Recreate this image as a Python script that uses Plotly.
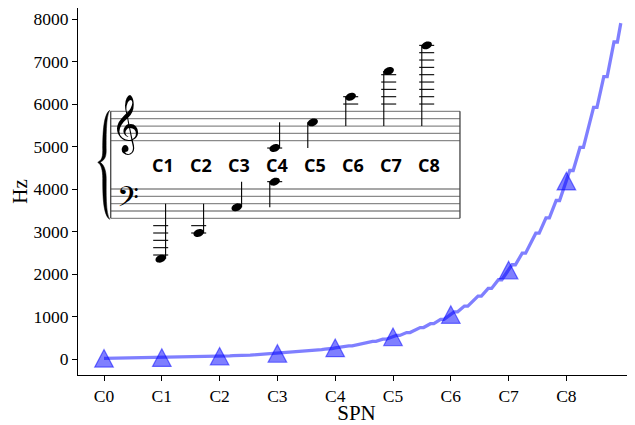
import math
import plotly.graph_objects as go

# ---------------- data ----------------
spelled_names = ["C", "C#", "Db", "D", "D#", "Eb", "E", "F", "F#", "Gb",
                 "G", "G#", "Ab", "A", "A#", "Bb", "B"]
pitch_class = {"C": 0, "C#": 1, "Db": 1, "D": 2, "D#": 3, "Eb": 3, "E": 4,
               "F": 5, "F#": 6, "Gb": 6, "G": 7, "G#": 8, "Ab": 8, "A": 9,
               "A#": 10, "Bb": 10, "B": 11}

freq_oct0 = [16.35, 17.32, 18.35, 19.45, 20.60, 21.83, 23.12, 24.50, 25.96, 27.50, 29.14, 30.87]
freq_oct1 = [32.70, 34.65, 36.71, 38.89, 41.20, 43.65, 46.25, 49.00, 51.91, 55.00, 58.27, 61.74]
freq_oct2 = [65.41, 69.30, 73.42, 77.78, 82.41, 87.31, 92.50, 98.00, 103.83, 110.00, 116.54, 123.47]
freq_oct3 = [130.81, 138.59, 146.83, 155.56, 164.81, 174.61, 185.00, 196.00, 207.65, 220.00, 233.08, 246.94]
freq_oct4 = [261.63, 277.18, 293.66, 311.13, 329.63, 349.23, 369.99, 392.00, 415.30, 440.00, 466.16, 493.88]
freq_oct5 = [523.25, 554.37, 587.33, 622.25, 659.25, 698.46, 739.99, 783.99, 830.61, 880.00, 932.33, 987.77]
freq_oct6 = [1046.50, 1108.73, 1174.66, 1244.51, 1318.51, 1396.91, 1479.98, 1567.98, 1661.22, 1760.00, 1864.66, 1975.53]
freq_oct7 = [2093.00, 2217.46, 2349.32, 2489.02, 2637.02, 2793.83, 2959.96, 3135.96, 3322.44, 3520.00, 3729.31, 3951.07]
freq_oct8 = [4186.01, 4434.92, 4698.63, 4978.03, 5274.04, 5587.65, 5919.91, 6271.93, 6644.88, 7040.00, 7458.62, 7902.13]
freqs_by_octave = [freq_oct0, freq_oct1, freq_oct2, freq_oct3, freq_oct4,
                   freq_oct5, freq_oct6, freq_oct7, freq_oct8]
tick_labels = ["C0", "C1", "C2", "C3", "C4", "C5", "C6", "C7", "C8"]

# inset (staff illustration)
inset_labels = ["C1", "C2", "C3", "C4", "C5", "C6", "C7", "C8"]
inset_note_slot = [1, 2, 3, 4, 4, 5, 6, 7, 8]
inset_note_staff = ["bass", "bass", "bass", "bass", "treble", "treble", "treble", "treble", "treble"]
inset_note_step = [7, 14, 21, 28, 28, 35, 42, 49, 56]   # diatonic step, C0 = 0

# ---------------- main series ----------------
n_per_oct = len(spelled_names)
xs, ys = [], []
for octv, freqs in enumerate(freqs_by_octave):
    for i, name in enumerate(spelled_names):
        xs.append(octv + i / n_per_oct)
        ys.append(freqs[pitch_class[name]])
cx = list(range(len(freqs_by_octave)))
cy = [f[pitch_class["C"]] for f in freqs_by_octave]

BLUE = "rgba(0,0,255,0.5)"
fig = go.Figure()
fig.add_trace(go.Scatter(x=xs, y=ys, mode="lines",
                         line=dict(color=BLUE, width=3.3), showlegend=False,
                         hoverinfo="skip"))

shapes = []
# triangle markers at every C, anchored at the data point (pixel-sized)
TRI_HALF_W, TRI_HALF_H = 9.3, 8.8
tri_path = "M %.1f,%.1f L %.1f,%.1f L 0,%.1f Z" % (-TRI_HALF_W, -TRI_HALF_H,
                                                  TRI_HALF_W, -TRI_HALF_H, TRI_HALF_H)
for x0, y0 in zip(cx, cy):
    shapes.append(dict(type="path", xref="x", yref="y", xsizemode="pixel", ysizemode="pixel",
                       xanchor=x0, yanchor=y0, path=tri_path,
                       fillcolor=BLUE, line=dict(color=BLUE, width=1.2)))

# ---------------- inset geometry ----------------
SLOT_PX = 38.0
STEP_PX = 3.667
BASS_OFFSET = -13.17


def staff_y(step, staff):
    if staff == "treble":
        return step - 30
    return BASS_OFFSET + (step - 26)


def px_x(dpx):
    return dpx / SLOT_PX


def px_y(dpx):
    return dpx / STEP_PX


BAR_L, BAR_R = -0.315, 8.876
STAFF_COL = "#8a8a8a"
for staff, lines in (("treble", [30, 32, 34, 36, 38]), ("bass", [18, 20, 22, 24, 26])):
    for s in lines:
        y = staff_y(s, staff)
        shapes.append(dict(type="line", xref="x2", yref="y2", x0=BAR_L, x1=BAR_R,
                           y0=y, y1=y, line=dict(color=STAFF_COL, width=1.3)))
for bx in (BAR_L, BAR_R):
    shapes.append(dict(type="line", xref="x2", yref="y2", x0=bx, x1=bx,
                       y0=staff_y(18, "bass"), y1=staff_y(38, "treble"),
                       line=dict(color="#444", width=1.3)))


def bp(xpx, ypx):
    return (BAR_L + px_x(xpx), staff_y(38, "treble") - px_y(ypx))


mid = 51.0
bot = 107.0
segs = [
    (bp(-1, -1),),
    (bp(-8, 3), bp(-8, 28), bp(-8, 39)),
    (bp(-8, 47), bp(-9.5, mid - 2), bp(-13, mid)),
    (bp(-9.5, mid + 2), bp(-8, mid + 8), bp(-8, mid + 16)),
    (bp(-8, mid + 30), bp(-8, bot - 3), bp(-1, bot + 1)),
    (bp(-5, bot - 5), bp(-4.5, mid + 30), bp(-4.5, mid + 16)),
    (bp(-4.5, mid + 8), bp(-7, mid + 2), bp(-10.5, mid)),
    (bp(-7, mid - 2), bp(-4.5, 47), bp(-4.5, 39)),
    (bp(-4.5, 28), bp(-5, 5), bp(-1, -1)),
]
path = "M %.4f,%.4f" % segs[0][0]
for seg in segs[1:]:
    path += " C " + " ".join("%.4f,%.4f" % p for p in seg)
path += " Z"
shapes.append(dict(type="path", xref="x2", yref="y2", path=path,
                   fillcolor="black", line=dict(width=0.5, color="black")))


def head_path(xc, yc, rx=5.4, ry=3.7, ang=22):
    a = math.radians(ang)
    pts = []
    for k in range(28):
        t = 2 * math.pi * k / 28
        x = rx * math.cos(t)
        y = ry * math.sin(t)
        xr = x * math.cos(a) - y * math.sin(a)
        yr = x * math.sin(a) + y * math.cos(a)
        pts.append((xc + px_x(xr), yc + px_y(yr)))
    return "M " + " L ".join("%.4f,%.4f" % p for p in pts) + " Z"


for slot, staff, step in zip(inset_note_slot, inset_note_staff, inset_note_step):
    yc = staff_y(step, staff)
    mid_line = 34 if staff == "treble" else 22
    if staff == "treble":
        led = [s for s in range(40, step + 1, 2)] + [s for s in range(28, step - 1, -2)]
    else:
        led = [s for s in range(16, step - 1, -2)] + [s for s in range(28, step + 1, 2)]
    for s in led:
        ly = staff_y(s, staff)
        shapes.append(dict(type="line", xref="x2", yref="y2",
                           x0=slot - px_x(7.5), x1=slot + px_x(7.5), y0=ly, y1=ly,
                           line=dict(color="black", width=1.1)))
    if step < mid_line:
        end = max(step + 7, mid_line)
        sx = slot + px_x(4.9)
    else:
        end = min(step - 7, mid_line)
        sx = slot - px_x(4.9)
    shapes.append(dict(type="line", xref="x2", yref="y2", x0=sx, x1=sx,
                       y0=yc, y1=staff_y(end, staff),
                       line=dict(color="black", width=1.1)))
    shapes.append(dict(type="path", xref="x2", yref="y2", path=head_path(slot, yc),
                       fillcolor="black", line=dict(width=0)))

annotations = []
for i, lab in enumerate(inset_labels):
    annotations.append(dict(xref="x2", yref="y2", x=i + 1 + 0.06, y=-6.6, text="<b>%s</b>" % lab,
                            showarrow=False, font=dict(family="Open Sans", size=18, color="black")))
annotations.append(dict(xref="x2", yref="y2", x=0.08, y=4.4, text="\U0001D11E",
                        showarrow=False, font=dict(family="DejaVu Sans, Noto Sans", size=50, color="black")))
annotations.append(dict(xref="x2", yref="y2", x=0.14, y=-16.3, text="\U0001D122",
                        showarrow=False, font=dict(family="DejaVu Sans, Noto Sans", size=34, color="black")))

# page body has an 8 px margin; figure is sized so the plot lands in place
PLOT_TOP_PX = 8
PLOT_BOT_PX = 375
Y0_PX, PX_PER_1000 = 359, 42.5
y_lo = -(PLOT_BOT_PX - Y0_PX) / PX_PER_1000 * 1000
y_hi = (Y0_PX - PLOT_TOP_PX) / PX_PER_1000 * 1000
TRE_PX = 140.7
y2_lo = (TRE_PX - PLOT_BOT_PX) / STEP_PX
y2_hi = (TRE_PX - PLOT_TOP_PX) / STEP_PX

SERIF = "Liberation Serif, Times New Roman, serif"
fig.update_layout(
    width=627, height=417,
    margin=dict(l=70, r=0, t=0, b=50),
    plot_bgcolor="white", paper_bgcolor="white",
    font=dict(family=SERIF, size=17.5, color="black"),
    shapes=shapes, annotations=annotations,
    xaxis=dict(range=[-0.45, 9.187], tickvals=cx, ticktext=tick_labels,
               showgrid=False, zeroline=False, showline=True, mirror=True,
               linecolor="black", linewidth=1.2, ticks="outside", ticklen=5,
               tickcolor="black", automargin=False,
               title=dict(text="SPN", standoff=6)),
    yaxis=dict(range=[y_lo, y_hi], tickvals=[0, 1000, 2000, 3000, 4000, 5000, 6000, 7000, 8000],
               showgrid=False, zeroline=False, showline=True, mirror=False,
               linecolor="black", linewidth=1.2, ticks="outside", ticklen=5,
               tickcolor="black", automargin=False,
               title=dict(text="Hz", standoff=8)),
    xaxis2=dict(overlaying="x", anchor="y2", range=[-1.176, 13.482], visible=False),
    yaxis2=dict(overlaying="y", anchor="x2", range=[y2_lo, y2_hi], visible=False),
)
fig.write_html("out.html")
